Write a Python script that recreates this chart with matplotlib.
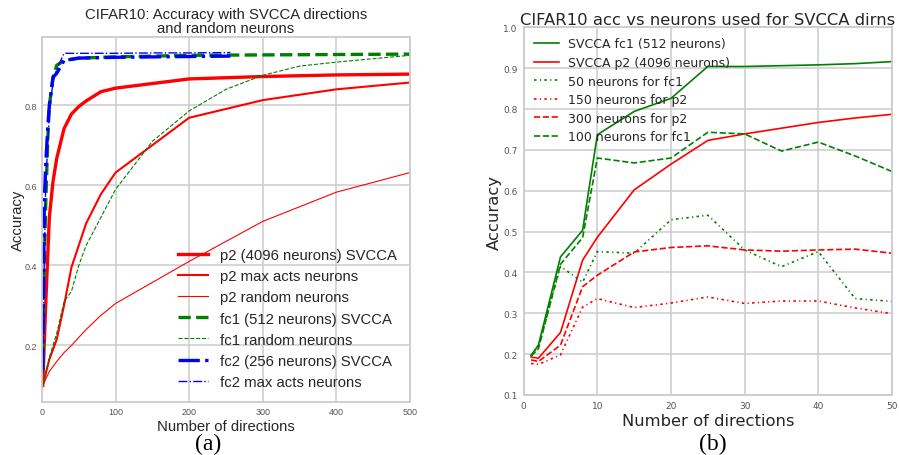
import matplotlib
matplotlib.use('Agg')
import matplotlib.pyplot as plt

# ---- left panel: accuracy vs number of directions (CIFAR10)
p2_svcca_x = [1, 5, 10, 15, 20, 30, 40, 50, 60, 80, 100, 200, 300, 400, 500]
p2_svcca_y = [0.10, 0.30, 0.52, 0.61, 0.667, 0.742, 0.778, 0.797, 0.811, 0.834, 0.843, 0.866, 0.872, 0.876, 0.878]

p2_maxacts_x = [1, 10, 20, 30, 40, 50, 60, 80, 100, 200, 300, 400, 500]
p2_maxacts_y = [0.10, 0.165, 0.215, 0.30, 0.395, 0.45, 0.505, 0.578, 0.632, 0.769, 0.813, 0.84, 0.857]

p2_random_x = [1, 10, 20, 30, 40, 50, 60, 80, 100, 200, 300, 400, 500]
p2_random_y = [0.10, 0.135, 0.16, 0.182, 0.20, 0.22, 0.24, 0.275, 0.305, 0.41, 0.51, 0.583, 0.632]

fc1_svcca_x = [1, 2, 3, 5, 8, 10, 15, 20, 30, 50, 100, 200, 300, 400, 500]
fc1_svcca_y = [0.14, 0.25, 0.40, 0.55, 0.72, 0.80, 0.87, 0.90, 0.912, 0.918, 0.921, 0.925, 0.926, 0.927, 0.928]

fc1_random_x = [1, 10, 20, 30, 40, 50, 60, 80, 100, 150, 200, 250, 300, 350, 400, 500]
fc1_random_y = [0.10, 0.17, 0.23, 0.31, 0.335, 0.40, 0.45, 0.52, 0.59, 0.71, 0.786, 0.84, 0.875, 0.898, 0.908, 0.925]

fc2_svcca_x = [1, 2, 3, 5, 8, 10, 15, 20, 30, 50, 100, 150, 200, 256]
fc2_svcca_y = [0.14, 0.30, 0.55, 0.65, 0.75, 0.80, 0.87, 0.88, 0.912, 0.918, 0.92, 0.921, 0.922, 0.923]

fc2_maxacts_x = [1, 3, 5, 10, 15, 20, 30, 50, 100, 150, 200, 256]
fc2_maxacts_y = [0.13, 0.40, 0.60, 0.78, 0.86, 0.89, 0.93, 0.93, 0.93, 0.931, 0.931, 0.932]

# ---- right panel: acc vs neurons used for SVCCA directions
dirs = [1, 2, 5, 8, 10, 15, 20, 25, 30, 35, 40, 45, 50]
svcca_fc1 = [0.197, 0.222, 0.438, 0.503, 0.737, 0.794, 0.826, 0.904, 0.904, 0.906, 0.908, 0.911, 0.916]
svcca_p2 = [0.193, 0.190, 0.253, 0.430, 0.486, 0.602, 0.665, 0.723, 0.739, 0.753, 0.767, 0.778, 0.787]
fc1_50 = [0.196, 0.218, 0.415, 0.376, 0.451, 0.447, 0.529, 0.540, 0.455, 0.414, 0.451, 0.336, 0.329]
p2_150 = [0.177, 0.175, 0.198, 0.315, 0.336, 0.314, 0.325, 0.340, 0.324, 0.330, 0.330, 0.313, 0.299]
p2_300 = [0.186, 0.182, 0.222, 0.365, 0.393, 0.450, 0.461, 0.465, 0.455, 0.452, 0.455, 0.457, 0.447]
fc1_100 = [0.195, 0.213, 0.420, 0.485, 0.680, 0.668, 0.680, 0.743, 0.739, 0.697, 0.719, 0.685, 0.647]

grid_col = '#cccccc'
txt_col = '#262626'
tick_col = '#555555'


def style_axes(ax, family, ticksize, pad):
	ax.set_facecolor('white')
	ax.grid(True, color=grid_col, lw=1.1)
	ax.set_axisbelow(True)
	for s in ax.spines.values():
		s.set_color(grid_col)
		s.set_linewidth(1.3)
	ax.tick_params(length=0, labelsize=ticksize, labelcolor=tick_col, pad=pad)
	for lab in ax.get_xticklabels() + ax.get_yticklabels():
		lab.set_family(family)


fig = plt.figure(figsize=(8.99, 4.56), dpi=100)

# left
sans = 'Liberation Sans'
ax1 = fig.add_axes([0.0467, 0.1156, 0.4093, 0.8004])
ax1.plot(p2_svcca_x, p2_svcca_y, color='r', lw=2.4, label='p2 (4096 neurons) SVCCA')
ax1.plot(p2_maxacts_x, p2_maxacts_y, color='r', lw=1.5, label='p2 max acts neurons')
ax1.plot(p2_random_x, p2_random_y, color='r', lw=0.8, label='p2 random neurons')
ax1.plot(fc1_svcca_x, fc1_svcca_y, color='g', lw=2.4, ls='--', label='fc1 (512 neurons) SVCCA')
ax1.plot(fc1_random_x, fc1_random_y, color='g', lw=0.8, ls='--', label='fc1 random neurons')
ax1.plot(fc2_svcca_x, fc2_svcca_y, color='b', lw=2.4, ls='-.', label='fc2 (256 neurons) SVCCA')
ax1.plot(fc2_maxacts_x, fc2_maxacts_y, color='b', lw=1.0, ls='-.', label='fc2 max acts neurons')
ax1.set_xlim(0, 500)
ax1.set_ylim(0.058, 0.97)
ax1.set_xticks([0, 100, 200, 300, 400, 500])
ax1.set_yticks([0.2, 0.4, 0.6, 0.8])
style_axes(ax1, sans, 6.5, 3.5)
ax1.set_title('CIFAR10: Accuracy with SVCCA directions\nand random neurons',
	fontsize=10.7, family=sans, color=txt_col, pad=3.5, linespacing=1.05)
ax1.set_xlabel('Number of directions', fontsize=10.7, family=sans, color=txt_col, labelpad=2)
ax1.set_ylabel('Accuracy', fontsize=10.7, family=sans, color=txt_col)
ax1.yaxis.set_label_coords(-0.047, 0.5)
leg1 = ax1.legend(loc='lower right', frameon=False, labelspacing=0.48,
	prop={'family': sans, 'size': 10.7})
for t in leg1.get_texts():
	t.set_color(txt_col)

# right
dv = 'DejaVu Sans'
ax2 = fig.add_axes([0.5825, 0.1316, 0.4097, 0.8064])
ax2.plot(dirs, svcca_fc1, color='g', lw=1.2, label='SVCCA fc1 (512 neurons)')
ax2.plot(dirs, svcca_p2, color='r', lw=1.2, label='SVCCA p2 (4096 neurons)')
ax2.plot(dirs, fc1_50, color='g', lw=1.2, dashes=(1.5, 2, 0.7, 2), label='50 neurons for fc1')
ax2.plot(dirs, p2_150, color='r', lw=1.2, dashes=(1.5, 2, 0.7, 2), label='150 neurons for p2')
ax2.plot(dirs, p2_300, color='r', lw=1.2, ls='--', label='300 neurons for p2')
ax2.plot(dirs, fc1_100, color='g', lw=1.2, ls='--', label='100 neurons for fc1')
ax2.set_xlim(0, 50)
ax2.set_ylim(0.1, 1.0)
ax2.set_xticks([0, 10, 20, 30, 40, 50])
ax2.set_yticks([0.1, 0.2, 0.3, 0.4, 0.5, 0.6, 0.7, 0.8, 0.9, 1.0])
style_axes(ax2, dv, 6.5, 4.5)
ax2.set_title('CIFAR10 acc vs neurons used for SVCCA dirns', fontsize=11.8, family=dv,
	color=txt_col, pad=2)
ax2.set_xlabel('Number of directions', fontsize=11.8, family=dv, color=txt_col, labelpad=2)
ax2.set_ylabel('Accuracy', fontsize=11.8, family=dv, color=txt_col)
ax2.yaxis.set_label_coords(-0.058, 0.5)
leg2 = ax2.legend(loc='upper left', frameon=False, labelspacing=0.45, handletextpad=0.75,
	borderaxespad=0.4, prop={'family': dv, 'size': 9})
for t in leg2.get_texts():
	t.set_color(txt_col)

# sub-figure tags
fig.text(0.231, 0.014, '(a)', family='Liberation Serif', fontsize=17, ha='center', va='baseline')
fig.text(0.793, 0.014, '(b)', family='Liberation Serif', fontsize=17, ha='center', va='baseline')

fig.savefig('out.png', dpi=100)
